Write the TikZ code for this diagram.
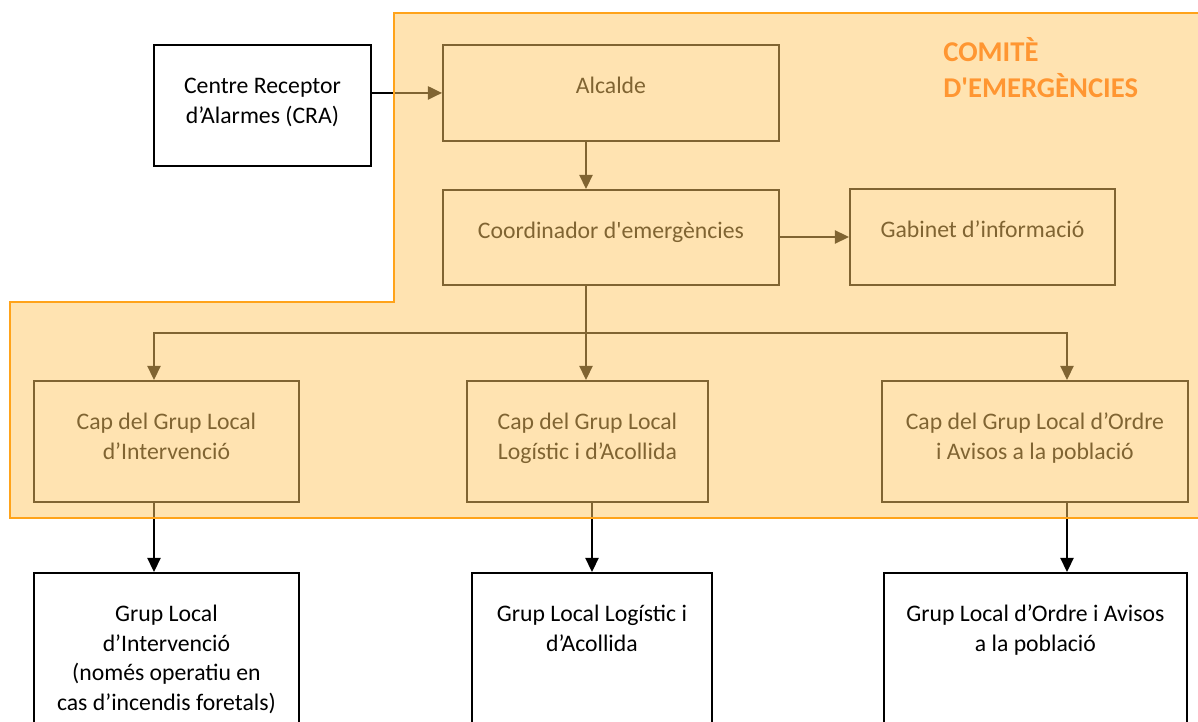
\documentclass[tikz,border=0pt]{standalone}
\usepackage{fontspec}
\setmainfont{Carlito}
\usetikzlibrary{arrows.meta}
\definecolor{AreaFill}{RGB}{255,200,100}
\definecolor{AreaLine}{RGB}{255,163,26}
\definecolor{TitleOrange}{RGB}{255,150,50}

\begin{document}
\begin{tikzpicture}[x=0.02cm,y=-0.02cm]
	\tikzstyle{BoxStyle}   = [rectangle, draw, line width=1.1pt, fill=white, anchor=north west, inner sep=0]
	\tikzstyle{TextStyle}  = [anchor=north, yshift=-0.56cm, inner sep=0, align=center, font=\fontsize{13.5}{17}\selectfont]
	\tikzstyle{EdgeStyle}  = [-{Triangle[length=8pt,width=7.5pt]}, line width=1pt]
	\tikzstyle{AreaStyle}  = [fill=AreaFill, fill opacity=0.5, draw=AreaLine, line width=1.2pt]
	\tikzstyle{TitleStyle} = [anchor=north west, inner sep=0, align=left, text=TitleOrange, font=\fontsize{16.3}{19}\selectfont\bfseries]

	\useasboundingbox (0,0) rectangle (1198,722);
	\clip (0,0) rectangle (1198,722);

	% top row
	\node[BoxStyle, minimum width=4.34cm, minimum height=2.42cm, label={[TextStyle]north:\strut Centre Receptor\\d’Alarmes (CRA)}] (CRA) at (153,44) {};
	\node[BoxStyle, minimum width=6.72cm, minimum height=1.92cm, label={[TextStyle]north:\strut Alcalde}] (Alcalde) at (442,44) {};
	\node[BoxStyle, minimum width=6.72cm, minimum height=1.90cm, label={[TextStyle]north:\strut Coordinador d\textquotesingle emergències}] (Coordinador) at (442,189) {};
	\node[BoxStyle, minimum width=5.30cm, minimum height=1.92cm, label={[TextStyle]north:\strut Gabinet d’informació}] (Gabinet) at (849,188) {};

	% caps de grup
	\node[BoxStyle, minimum width=5.30cm, minimum height=2.42cm, label={[TextStyle]north:\strut Cap del Grup Local\\d’Intervenció}] (CapIntervencio) at (33,380) {};
	\node[BoxStyle, minimum width=4.82cm, minimum height=2.42cm, label={[TextStyle]north:\strut Cap del Grup Local\\Logístic i d’Acollida}] (CapLogistic) at (466,380) {};
	\node[BoxStyle, minimum width=6.12cm, minimum height=2.42cm, label={[TextStyle]north:\strut Cap del Grup Local d’Ordre\\i Avisos a la població}] (CapOrdre) at (881,380) {};

	% grups
	\node[BoxStyle, minimum width=5.30cm, minimum height=3.40cm, label={[TextStyle]north:\strut Grup Local\\d’Intervenció\\(només operatiu en\\cas d’incendis foretals)}] (GrupIntervencio) at (33,572) {};
	\node[BoxStyle, minimum width=4.80cm, minimum height=3.40cm, label={[TextStyle]north:\strut Grup Local Logístic i\\d’Acollida}] (GrupLogistic) at (471,572) {};
	\node[BoxStyle, minimum width=6.06cm, minimum height=3.40cm, label={[TextStyle]north:\strut Grup Local d’Ordre i Avisos\\a la població}] (GrupOrdre) at (883,572) {};

	% connectors
	\coordinate (fork) at (586,333);
	\draw[EdgeStyle] (CRA.east |- Alcalde.west) -- (Alcalde.west);
	\draw[EdgeStyle] (Alcalde.south -| fork) -- (Coordinador.north -| fork);
	\draw[EdgeStyle] (Coordinador.east |- 0,237) -- (Gabinet.west |- 0,237);
	\draw[line width=1pt] (Coordinador.south -| fork) -- (fork);
	\draw[EdgeStyle] (fork) -| (CapIntervencio.north -| 154,0);
	\draw[EdgeStyle] (fork) -- (CapLogistic.north -| fork);
	\draw[EdgeStyle] (fork) -| (CapOrdre.north -| 1067,0);
	\draw[EdgeStyle] (CapIntervencio.south -| 154,0) -- (GrupIntervencio.north -| 154,0);
	\draw[EdgeStyle] (CapLogistic.south -| 592,0) -- (GrupLogistic.north -| 592,0);
	\draw[EdgeStyle] (CapOrdre.south -| 1067,0) -- (GrupOrdre.north -| 1067,0);

	% comite
	\draw[AreaStyle] (394,13) -- (1200,13) -- (1200,518) -- (10,518) -- (10,302) -- (394,302) -- cycle;
	\node[TitleStyle] (Comite) at (943,37) {\strut COMITÈ\\D\textquotesingle EMERGÈNCIES};
\end{tikzpicture}
\end{document}
